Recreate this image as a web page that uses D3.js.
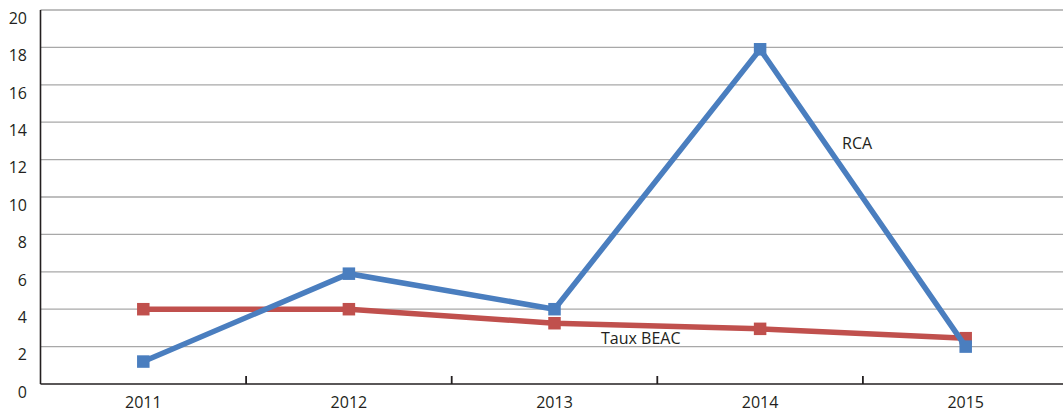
<!DOCTYPE html>
<html>
<head>
<meta charset="utf-8">
<script src="https://cdn.jsdelivr.net/npm/d3@7"></script>
<style>
  html, body { margin: 0; padding: 0; background: #fff; }
  svg { display: block; }
  text { font-family: "Open Sans", "Noto Sans", sans-serif; fill: #231f20; }
</style>
</head>
<body>
<svg id="chart" width="1063" height="411"></svg>
<script>
// Years on the horizontal axis
const years = ["2011", "2012", "2013", "2014", "2015"];
// Inflation, République centrafricaine (%)
const rcaValues = [1.2, 5.9, 4.0, 17.9, 2.0];
// Taux directeur BEAC (%)
const beacValues = [4.0, 4.0, 3.25, 2.95, 2.45];
// Vertical axis ticks
const yTicks = [0, 2, 4, 6, 8, 10, 12, 14, 16, 18, 20];

const svg = d3.select("#chart");
const plotLeft = 40.5, plotRight = 1068.5, plotTop = 10, plotBottom = 384;

const x = d3.scaleBand().domain(years).range([plotLeft, plotRight]).paddingInner(0).paddingOuter(0);
const y = d3.scaleLinear().domain([0, 20]).range([plotBottom, plotTop]);
const cx = d => x(d) + x.bandwidth() / 2;

// Horizontal gridlines
svg.append("g")
  .selectAll("line")
  .data(yTicks.filter(t => t > 0))
  .join("line")
  .attr("x1", plotLeft).attr("x2", 1063)
  .attr("y1", d => y(d)).attr("y2", d => y(d))
  .attr("stroke", "#a8a8a8").attr("stroke-width", 1.3);

// Y tick labels
svg.append("g")
  .selectAll("text")
  .data(yTicks)
  .join("text")
  .attr("x", 27)
  .attr("y", d => y(d) + 8)
  .attr("dy", "0.36em")
  .attr("text-anchor", "end")
  .attr("font-size", 16)
  .text(d => d);

// Axes lines
svg.append("line")
  .attr("x1", plotLeft).attr("x2", plotLeft).attr("y1", plotTop).attr("y2", plotBottom)
  .attr("stroke", "#231f20").attr("stroke-width", 1.6);
svg.append("line")
  .attr("x1", plotLeft).attr("x2", 1063).attr("y1", plotBottom).attr("y2", plotBottom)
  .attr("stroke", "#231f20").attr("stroke-width", 1.6);

// Category separators (ticks pointing inward)
svg.append("g")
  .selectAll("line")
  .data(years.slice(1))
  .join("line")
  .attr("x1", d => x(d)).attr("x2", d => x(d))
  .attr("y1", plotBottom).attr("y2", plotBottom - 8)
  .attr("stroke", "#231f20").attr("stroke-width", 1.8);

// X labels
svg.append("g")
  .selectAll("text")
  .data(years)
  .join("text")
  .attr("x", d => cx(d))
  .attr("y", 408)
  .attr("text-anchor", "middle")
  .attr("font-size", 16)
  .text(d => d);

function drawSeries(values, color) {
  const pts = years.map((yr, i) => [cx(yr), y(values[i])]);
  svg.append("path")
    .attr("d", d3.line()(pts))
    .attr("fill", "none")
    .attr("stroke", color)
    .attr("stroke-width", 5.5)
    .attr("stroke-linejoin", "miter");
  const s = 12.5;
  svg.append("g")
    .selectAll("rect")
    .data(pts)
    .join("rect")
    .attr("x", d => d[0] - s / 2)
    .attr("y", d => d[1] - s / 2)
    .attr("width", s).attr("height", s)
    .attr("fill", color);
}

drawSeries(beacValues, "#c0504d");
drawSeries(rcaValues, "#4a7ebf");

// Series labels
svg.append("text")
  .attr("x", 842).attr("y", 143).attr("dy", "0.36em")
  .attr("font-size", 16).text("RCA");
svg.append("text")
  .attr("x", 601).attr("y", 338).attr("dy", "0.36em")
  .attr("font-size", 16).text("Taux BEAC");
</script>
</body>
</html>
